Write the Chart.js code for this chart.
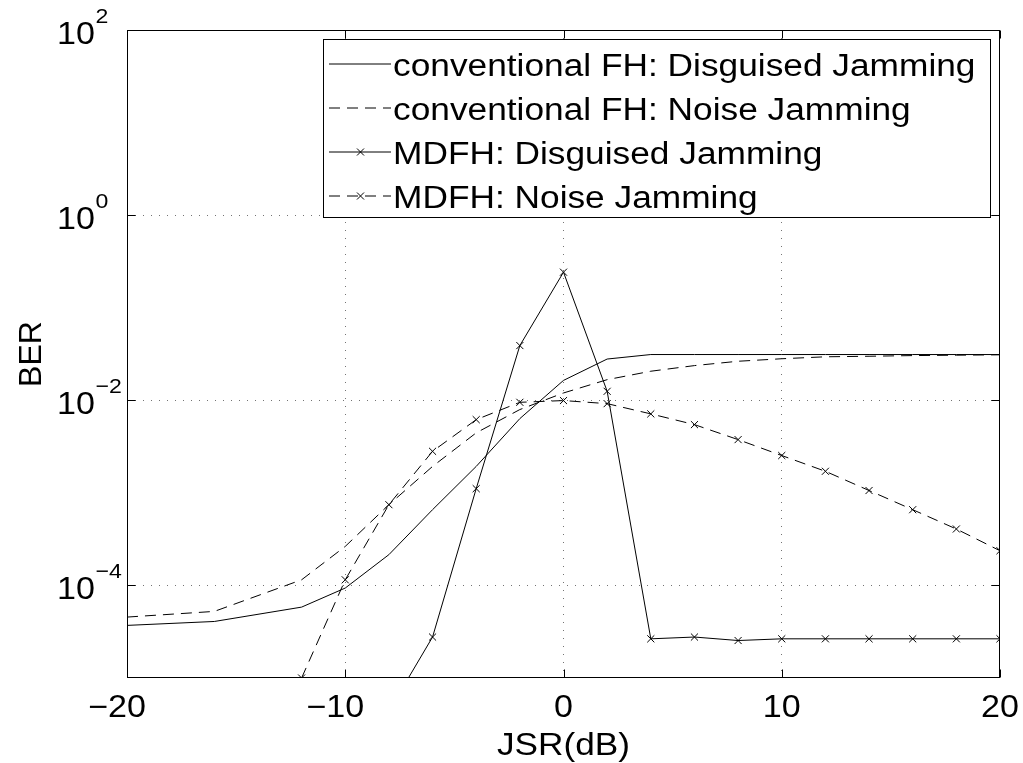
<!DOCTYPE html>
<html>
<head>
<meta charset="utf-8">
<script src="https://cdn.jsdelivr.net/npm/chart.js@4.4.1/dist/chart.umd.min.js"></script>
<style>
  html, body { margin: 0; padding: 0; background: #fff; }
  #wrap { width: 1023px; height: 763px; }
</style>
</head>
<body>
<div id="wrap"><canvas id="ber-chart" width="1023" height="763"></canvas></div>
<script>
// JSR axis values (dB)
const jsrConv = [-20, -16, -12, -10, -8, -6, -4, -2, 0, 2, 4, 6, 8, 10, 12, 14, 16, 18, 20];
const jsrMdfhDisguised = [-8, -6, -4, -2, 0, 2, 4, 6, 8, 10, 12, 14, 16, 18, 20];
const jsrMdfhNoise = [-12, -10, -8, -6, -4, -2, 0, 2, 4, 6, 8, 10, 12, 14, 16, 18, 20];

// BER values
const berConvDisguised = [3.70e-5, 4.08e-5, 5.83e-5, 9.37e-5, 2.15e-4, 6.58e-4, 1.93e-3, 6.34e-3, 1.64e-2,
  2.79e-2, 3.12e-2, 3.12e-2, 3.12e-2, 3.12e-2, 3.12e-2, 3.12e-2, 3.12e-2, 3.12e-2, 3.12e-2];
const berConvNoise = [4.55e-5, 5.24e-5, 1.15e-4, 2.64e-4, 7.45e-4, 1.93e-3, 4.45e-3, 7.94e-3, 1.20e-2,
  1.67e-2, 2.06e-2, 2.37e-2, 2.64e-2, 2.81e-2, 2.95e-2, 2.99e-2, 3.04e-2, 3.07e-2, 3.10e-2];
const berMdfhDisguised = [4.4e-6, 2.77e-5, 1.11e-3, 3.90e-2, 0.242, 1.25e-2, 2.65e-5, 2.77e-5, 2.54e-5,
  2.65e-5, 2.65e-5, 2.65e-5, 2.65e-5, 2.65e-5, 2.65e-5];
const berMdfhNoise = [1.0e-5, 1.15e-4, 7.45e-4, 2.81e-3, 6.18e-3, 9.51e-3, 9.93e-3, 9.20e-3, 7.13e-3,
  5.46e-3, 3.76e-3, 2.53e-3, 1.71e-3, 1.06e-3, 6.58e-4, 4.07e-4, 2.37e-4];

// Tick values
const xTicks = [-20, -10, 0, 10, 20];
const yTicks = [1e-4, 1e-2, 1e0, 1e2];

const seriesLabels = [
  'conventional FH: Disguised Jamming',
  'conventional FH: Noise Jamming',
  'MDFH: Disguised Jamming',
  'MDFH: Noise Jamming'
];

const FONT = '"Liberation Sans", Arial, Helvetica, sans-serif';
const SX = 1.1; // the original text is a bit wide

function toPoints(xs, ys) {
  return xs.map((x, i) => ({ x: x, y: ys[i] }));
}

// Draw horizontally stretched text
function drawText(ctx, text, x, y, size, align) {
  ctx.save();
  ctx.font = size + 'px ' + FONT;
  ctx.textAlign = align || 'left';
  ctx.textBaseline = 'alphabetic';
  ctx.fillStyle = '#000';
  ctx.translate(x, y);
  ctx.scale(SX, 1);
  ctx.fillText(text, 0, 0);
  ctx.restore();
}

function textWidth(ctx, text, size) {
  ctx.save();
  ctx.font = size + 'px ' + FONT;
  const w = ctx.measureText(text).width * SX;
  ctx.restore();
  return w;
}

function drawCross(ctx, x, y, r) {
  ctx.beginPath();
  ctx.moveTo(x - r, y - r);
  ctx.lineTo(x + r, y + r);
  ctx.moveTo(x - r, y + r);
  ctx.lineTo(x + r, y - r);
  ctx.stroke();
}

// Box, inward ticks, tick labels, axis titles and legend in MATLAB style
const matlabAxes = {
  id: 'matlabAxes',
  afterDraw(chart) {
    const ctx = chart.ctx;
    const area = chart.chartArea;
    const xs = chart.scales.x;
    const ys = chart.scales.y;
    const L = Math.round(area.left) + 0.5;
    const R = Math.round(area.right) - 0.5;
    const T = Math.round(area.top) + 0.5;
    const B = Math.round(area.bottom) - 0.5;

    ctx.save();
    ctx.strokeStyle = '#000';
    ctx.lineWidth = 1;
    ctx.strokeRect(L, T, R - L, B - T);

    // inward tick marks
    const tl = 8;
    ctx.beginPath();
    xTicks.forEach(v => {
      const px = Math.round(xs.getPixelForValue(v)) + 0.5;
      ctx.moveTo(px, B); ctx.lineTo(px, B - tl);
      ctx.moveTo(px, T); ctx.lineTo(px, T + tl);
    });
    yTicks.forEach(v => {
      const py = Math.round(ys.getPixelForValue(v)) + 0.5;
      ctx.moveTo(L, py); ctx.lineTo(L + tl, py);
      ctx.moveTo(R, py); ctx.lineTo(R - tl, py);
    });
    ctx.stroke();

    // x tick labels (digits centred on the tick, minus hangs left)
    xTicks.forEach(v => {
      const px = xs.getPixelForValue(v);
      const digits = String(Math.abs(v));
      const dw = textWidth(ctx, digits, 31);
      const label = (v < 0 ? '\u2212' : '') + digits;
      drawText(ctx, label, px + dw / 2, 717, 31, 'right');
    });

    // y tick labels 10^n
    yTicks.forEach(v => {
      const py = ys.getPixelForValue(v);
      const exp = Math.round(Math.log10(v));
      drawText(ctx, '10', 57, py + 13.5, 31, 'left');
      const expText = exp < 0 ? '\u2212' + Math.abs(exp) : String(exp);
      drawText(ctx, expText, 95.5, py - 7.5, 21, 'left');
    });

    // axis titles
    drawText(ctx, 'JSR(dB)', (area.left + area.right) / 2, 755, 32, 'center');
    ctx.save();
    ctx.translate(41, (area.top + area.bottom) / 2);
    ctx.rotate(-Math.PI / 2);
    ctx.font = '32px ' + FONT;
    ctx.textAlign = 'center';
    ctx.textBaseline = 'alphabetic';
    ctx.fillStyle = '#000';
    ctx.fillText('BER', 0, 0);
    ctx.restore();

    // legend
    const lx = 323.5, ly = 39.5, lw = 667, lh = 178;
    ctx.fillStyle = '#fff';
    ctx.fillRect(lx, ly, lw, lh);
    ctx.strokeStyle = '#000';
    ctx.strokeRect(lx, ly, lw, lh);
    chart.data.datasets.forEach((ds, i) => {
      const base = 75.5 + i * 44;
      const sy = base - 11.5;
      ctx.save();
      ctx.strokeStyle = '#000';
      ctx.lineWidth = 1;
      ctx.setLineDash(ds.borderDash || []);
      ctx.beginPath();
      ctx.moveTo(329, sy);
      ctx.lineTo(391, sy);
      ctx.stroke();
      ctx.setLineDash([]);
      if (ds.pointRadius > 0) drawCross(ctx, 360.5, sy, 3.5);
      ctx.restore();
      drawText(ctx, ds.label, 393, base, 32.1, 'left');
    });
    ctx.restore();
  }
};

const gridColor = (c) => (c.tick && (c.index === 0 || c.index === c.scale.ticks.length - 1) && c.scale.axis === 'x')
  ? 'rgba(0,0,0,0)' : 'rgba(0,0,0,0.55)';

function lineSet(label, xs, ys, dashed, marked) {
  return {
    label: label,
    data: toPoints(xs, ys),
    borderColor: '#000',
    backgroundColor: '#000',
    borderWidth: 1,
    borderDash: dashed ? [11, 7] : [],
    pointStyle: 'crossRot',
    pointRadius: marked ? 5 : 0,
    pointBorderWidth: 1,
    pointBorderColor: '#000',
    fill: false,
    tension: 0
  };
}

new Chart(document.getElementById('ber-chart'), {
  type: 'line',
  data: {
    datasets: [
      lineSet(seriesLabels[0], jsrConv, berConvDisguised, false, false),
      lineSet(seriesLabels[1], jsrConv, berConvNoise, true, false),
      lineSet(seriesLabels[2], jsrMdfhDisguised, berMdfhDisguised, false, true),
      lineSet(seriesLabels[3], jsrMdfhNoise, berMdfhNoise, true, true)
    ]
  },
  options: {
    responsive: false,
    animation: false,
    devicePixelRatio: 1,
    events: [],
    layout: { padding: { top: 30, right: 23, bottom: 0, left: 0 } },
    plugins: {
      legend: { display: false },
      tooltip: { enabled: false }
    },
    scales: {
      x: {
        type: 'linear',
        min: -20,
        max: 20,
        afterBuildTicks: (s) => { s.ticks = xTicks.map(v => ({ value: v })); },
        afterFit: (s) => { s.height = 85; },
        ticks: { display: false },
        grid: { color: gridColor, lineWidth: 1, drawTicks: false },
        border: { display: false, dash: [1, 7] }
      },
      y: {
        type: 'logarithmic',
        min: 1e-5,
        max: 1e2,
        afterBuildTicks: (s) => { s.ticks = yTicks.map(v => ({ value: v })); },
        afterFit: (s) => { s.width = 127; },
        ticks: { display: false },
        grid: {
          color: (c) => (c.tick && c.tick.value === 1e2) ? 'rgba(0,0,0,0)' : 'rgba(0,0,0,0.55)',
          lineWidth: 1,
          drawTicks: false
        },
        border: { display: false, dash: [1, 7] }
      }
    }
  },
  plugins: [matlabAxes]
});
</script>
</body>
</html>
